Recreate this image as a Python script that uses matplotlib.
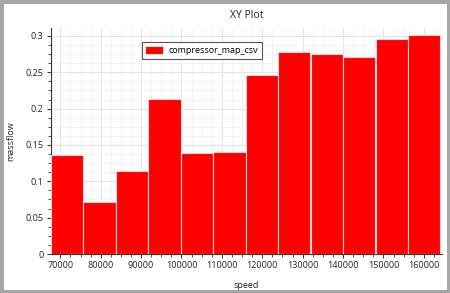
import matplotlib
matplotlib.use("Agg")
import matplotlib.pyplot as plt
from matplotlib.ticker import MultipleLocator
from matplotlib.patches import Rectangle

speed = [71600, 79700, 87700, 95800, 103800, 111900, 119900, 127900, 136000, 144000, 152100, 160100]
massflow = [0.1358, 0.0711, 0.1138, 0.2129, 0.1386, 0.1408, 0.2468, 0.2784, 0.2748, 0.2707, 0.2955, 0.3014]
series_name = "compressor_map_csv"

plt.rcParams["font.family"] = ["Open Sans", "DejaVu Sans"]

fig = plt.figure(figsize=(4.5, 2.93), dpi=100)
ax = fig.add_axes([50.5/450, 39/293, 391.5/450, 226/293])

ax.bar(speed, massflow, width=8040, color="#ff0000", edgecolor="#ffd6d6", linewidth=0.8,
       label=series_name, zorder=3)

ax.set_xlim(67570, 164500)
ax.set_ylim(0, 0.311)
ax.xaxis.set_major_locator(MultipleLocator(10000))
ax.xaxis.set_minor_locator(MultipleLocator(2500))
ax.yaxis.set_major_locator(MultipleLocator(0.05))
ax.yaxis.set_minor_locator(MultipleLocator(0.0125))
ax.set_yticks([0, 0.05, 0.1, 0.15, 0.2, 0.25, 0.3])
ax.set_yticklabels(["0", "0.05", "0.1", "0.15", "0.2", "0.25", "0.3"])

ax.grid(which="major", color="#e4e4e4", linewidth=0.8, zorder=0)
ax.grid(which="minor", color="#f1f1f1", linewidth=0.6, zorder=0)
ax.set_axisbelow(True)

for s in ["top", "right"]:
    ax.spines[s].set_visible(False)
for s in ["left", "bottom"]:
    ax.spines[s].set_color("#333333")
    ax.spines[s].set_linewidth(0.8)

ax.tick_params(which="major", length=3, width=0.7, color="#333333", labelsize=6.5,
               labelcolor="#222222", pad=2)
ax.tick_params(which="minor", length=2, width=0.6, color="#333333")

ax.set_title("XY Plot", fontsize=7.5, color="#222222", pad=7)
ax.set_xlabel("speed", fontsize=6.5, color="#222222", labelpad=8)
ax.set_ylabel("massflow", fontsize=6.5, color="#222222")
ax.yaxis.set_label_coords(-35/391.5, 0.5)

leg = ax.legend(loc="upper left", bbox_to_anchor=(0.233, 0.937), borderaxespad=0,
                fontsize=6.5, frameon=True, fancybox=False, handlelength=2.0,
                handleheight=1.0, borderpad=0.4, handletextpad=0.6)
leg.get_frame().set_edgecolor("#555555")
leg.get_frame().set_linewidth(0.8)
leg.get_frame().set_alpha(1)

fig.patches.append(Rectangle((0, 0), 1, 1, transform=fig.transFigure, fill=False,
                             edgecolor="#a6a6a6", linewidth=5, zorder=10))

fig.savefig("out.png", dpi=100)
